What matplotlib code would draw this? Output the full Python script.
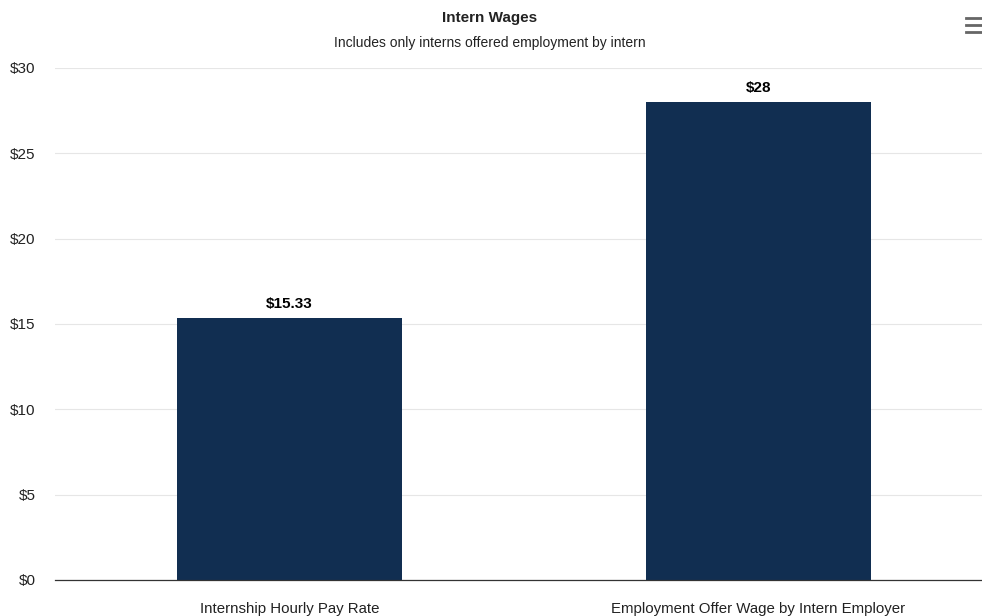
import matplotlib
matplotlib.use("Agg")
import matplotlib.pyplot as plt
from matplotlib.lines import Line2D

plt.rcParams['font.family'] = ['Liberation Sans', 'DejaVu Sans']

categories = ["Internship Hourly Pay Rate", "Employment Offer Wage by Intern Employer"]
values = [15.33, 28]
value_labels = ["$15.33", "$28"]
yticks = [0, 5, 10, 15, 20, 25, 30]
ytick_labels = ["$0", "$5", "$10", "$15", "$20", "$25", "$30"]

bar_color = "#112e51"

fig = plt.figure(figsize=(9.82, 6.16), dpi=100)
ax = fig.add_axes([55 / 982, 1 - 580 / 616, (993 - 55) / 982, (580 - 68) / 616])

x = list(range(len(categories)))
ax.bar(x, values, width=0.478, color=bar_color, zorder=3)
for xi, v, lab in zip(x, values, value_labels):
    ax.annotate(lab, (xi, v), xytext=(0, 5), textcoords="offset points",
                ha="center", va="bottom", fontsize=11, fontweight="bold", color="#000000")

ax.set_xlim(-0.5, 1.5)
ax.set_ylim(0, 30)
ax.set_yticks(yticks)
ax.set_yticklabels(ytick_labels)
ax.set_xticks(x)
ax.set_xticklabels(categories)
ax.tick_params(axis="y", length=0, pad=14, labelsize=11, labelcolor="#222222")
ax.tick_params(axis="x", length=0, pad=16, labelsize=10.8, labelcolor="#222222")
ax.grid(axis="y", color="#e6e6e6", linewidth=0.8, zorder=0)
for s in ["top", "right", "left"]:
    ax.spines[s].set_visible(False)
ax.spines["bottom"].set_color("#333333")
ax.spines["bottom"].set_linewidth(0.9)
ax.spines["bottom"].set_zorder(4)

fig.text(490 / 982, 1 - 18 / 616, "Intern Wages", ha="center", va="center",
         fontsize=11, fontweight="bold", color="#222222")
fig.text(490 / 982, 1 - 43 / 616, "Includes only interns offered employment by intern",
         ha="center", va="center", fontsize=10, color="#222222")

# menu icon
for yy in (18, 25, 32):
    fig.add_artist(Line2D([966 / 982, 982 / 982], [1 - yy / 616, 1 - yy / 616],
                          color="#666666", linewidth=2.0, transform=fig.transFigure))

fig.savefig("out.png", dpi=100)
